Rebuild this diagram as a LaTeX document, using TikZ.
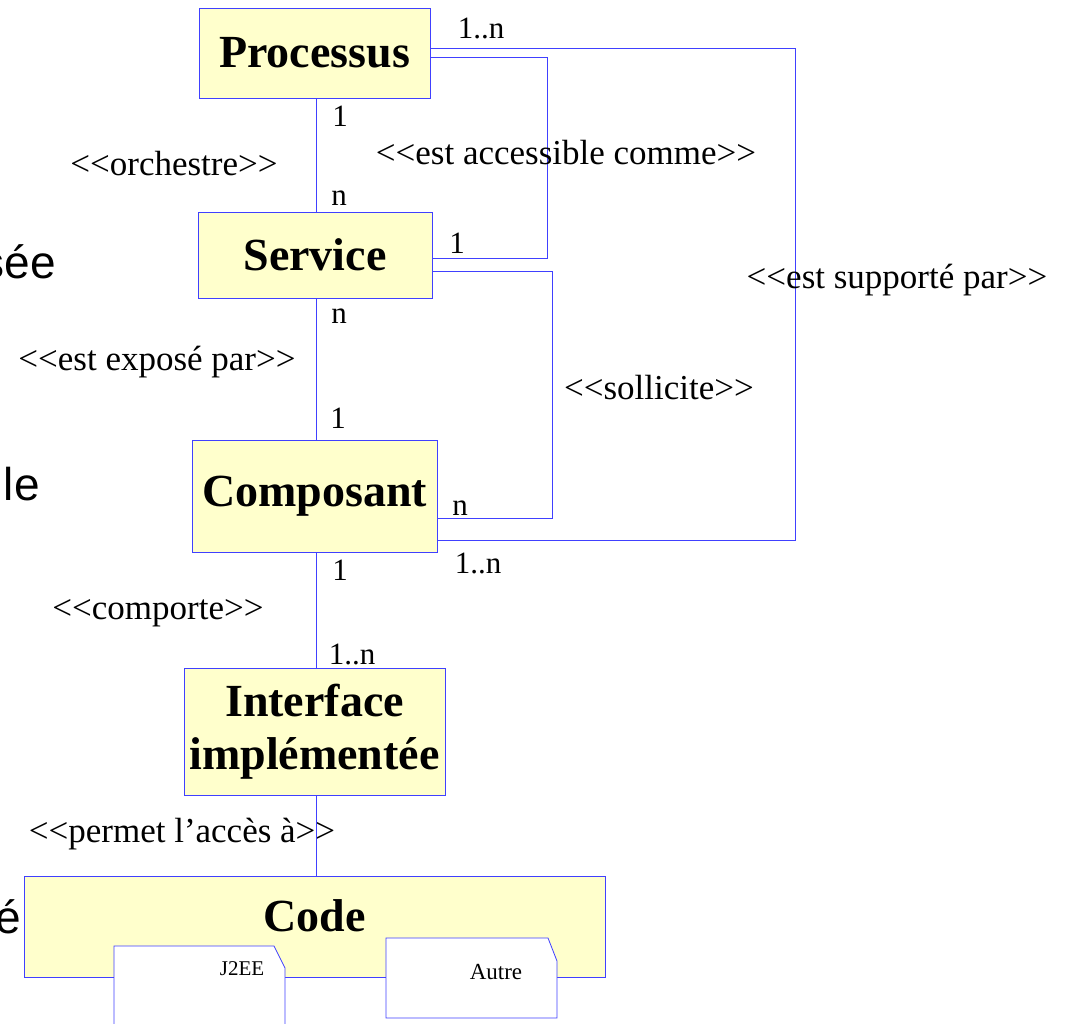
\documentclass[tikz,border=0pt]{standalone}
\usepackage{fontspec}
\setmainfont{Liberation Serif}
\newfontfamily\arialfont{Liberation Sans}
\usepackage{tikz}
\usetikzlibrary{calc}
\definecolor{umlblue}{RGB}{64,64,255}
\definecolor{umlfill}{RGB}{255,255,204}

\begin{document}
\begin{tikzpicture}[x=1pt, y=-1pt, line width=0.8pt,
    classbox/.style={draw=umlblue, fill=umlfill, inner sep=0pt, align=center,
      font=\fontsize{46}{53}\selectfont\bfseries},
    stereo/.style={inner sep=0pt, font=\fontsize{35}{40}\selectfont},
    mult/.style={inner sep=0pt, font=\fontsize{31}{36}\selectfont},
    link/.style={draw=umlblue}]
    \useasboundingbox (0, 0) rectangle (1065, 1023);

    % draw cut-off words on the left
    \begin{scope}
      \clip (0, 0) rectangle (1065, 1023);
      \node[anchor=east, inner sep=0pt, font=\fontsize{46}{50}\arialfont] (leftA) at (56, 262) {sée};
      \node[anchor=east, inner sep=0pt, font=\fontsize{46}{50}\arialfont] (leftB) at (40, 484) {le};
      \node[anchor=east, inner sep=0pt, font=\fontsize{46}{50}\arialfont] (leftC) at (21, 917) {é};
    \end{scope}

    % draw class boxes
    \node[classbox, minimum width=231, minimum height=90] (proc) at (314.5, 53) {Processus};
    \node[classbox, minimum width=234, minimum height=86] (serv) at (315, 255) {Service};
    \node[classbox, minimum width=245, minimum height=112] (compo) at (314.5, 496) {Composant};
    \node[classbox, minimum width=261, minimum height=127] (iface) at (314.5, 731.5) {Interface\\implémentée};
    \node[classbox, minimum width=581, minimum height=101, text depth=21] (code) at (314.5, 926.5) {Code};

    % draw J2EE and other sub boxes
    \filldraw[draw=umlblue, fill=white] (114, 1026) -- (114, 946) -- (274, 946) -- (285, 968) -- (285, 1026);
    \filldraw[draw=umlblue, fill=white] (386, 1018) -- (386, 938) -- (548, 938) -- (557, 961) -- (557, 1018) -- cycle;
    \node[inner sep=0pt, font=\fontsize{21}{24}\selectfont] (j2ee) at (242, 969) {J2EE};
    \node[inner sep=0pt, font=\fontsize{23}{26}\selectfont] (autre) at (496, 972) {Autre};

    % draw vertical links
    \draw[link] ([xshift=1.5]proc.south) -- ([xshift=1.5]proc.south |- serv.north);
    \draw[link] ([xshift=1]serv.south) -- ([xshift=1]serv.south |- compo.north);
    \draw[link] ([xshift=1.5]compo.south) -- ([xshift=1.5]compo.south |- iface.north);
    \draw[link] ([xshift=1.5]iface.south) -- ([xshift=1.5]iface.south |- code.north);

    % draw side links
    \draw[link] ([yshift=-4]proc.east) -| ([xshift=115, yshift=-3]serv.east) -- ([yshift=-3]serv.east);
    \draw[link] ([yshift=-16]serv.east) -| ([xshift=115, yshift=-22]compo.east) -- ([yshift=-22]compo.east);
    \draw[link] ([yshift=5]proc.east) -| ([xshift=358, yshift=-44]compo.east) -- ([yshift=-44]compo.east);

    % draw stereotypes
    \node[stereo] (orch) at (174, 164) {<{}<orchestre>{}>};
    \node[stereo] (acces) at (566, 153) {<{}<est accessible comme>{}>};
    \node[stereo] (supp) at (897, 280) {<{}<est supporté par>{}>};
    \node[stereo] (expo) at (157, 362) {<{}<est exposé par>{}>};
    \node[stereo] (soll) at (659, 388) {<{}<sollicite>{}>};
    \node[stereo] (comp) at (158, 613) {<{}<comporte>{}>};
    \node[stereo] (perm) at (182, 834) {<{}<permet l’accès à>{}>};

    % draw multiplicities
    \node[mult] (mA) at (481, 28) {1..n};
    \node[mult] (mB) at (340, 116) {1};
    \node[mult] (mC) at (339, 198) {n};
    \node[mult] (mD) at (457, 243) {1};
    \node[mult] (mE) at (339, 316) {n};
    \node[mult] (mF) at (338, 418) {1};
    \node[mult] (mG) at (460, 508) {n};
    \node[mult] (mH) at (478, 563) {1..n};
    \node[mult] (mI) at (340, 570) {1};
    \node[mult] (mJ) at (352, 654) {1..n};
\end{tikzpicture}
\end{document}
